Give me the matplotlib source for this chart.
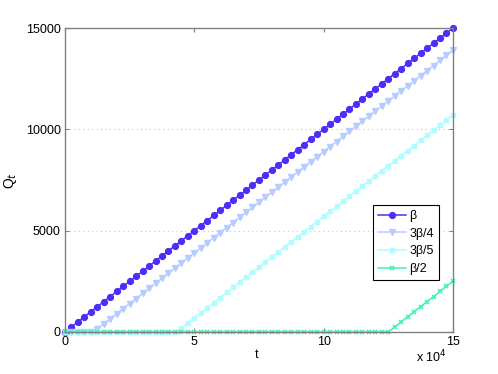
import numpy as np
import matplotlib
matplotlib.use("Agg")
import matplotlib.pyplot as plt
from matplotlib.ticker import FixedLocator, FuncFormatter

t = [i * 2500 for i in range(61)]

beta = [0,250,500,750,1000,1250,1500,1750,2000,2250,2500,2750,3000,3250,3500,3750,4000,
        4250,4500,4750,5000,5250,5500,5750,6000,6250,6500,6750,7000,7250,7500,7750,8000,
        8250,8500,8750,9000,9250,9500,9750,10000,10250,10500,10750,11000,11250,11500,11750,
        12000,12250,12500,12750,13000,13250,13500,13750,14000,14250,14500,14750,15000]
beta34 = [0]*5 + [150,400,650,900,1150,1400,1650,1900,2150,2400,2650,2900,3150,3400,3650,
        3900,4150,4400,4650,4900,5150,5400,5650,5900,6150,6400,6650,6900,7150,7400,7650,7900,
        8150,8400,8650,8900,9150,9400,9650,9900,10150,10400,10650,10900,11150,11400,11650,
        11900,12150,12400,12650,12900,13150,13400,13650,13900]
beta35 = [0]*18 + [200,450,700,950,1200,1450,1700,1950,2200,2450,2700,2950,3200,3450,3700,
        3950,4200,4450,4700,4950,5200,5450,5700,5950,6200,6450,6700,6950,7200,7450,7700,7950,
        8200,8450,8700,8950,9200,9450,9700,9950,10200,10450,10700]
beta2 = [0]*51 + [250,500,750,1000,1250,1500,1750,2000,2250,2500]

labels = ["β", "3β/4", "3β/5", "β/2"]
xticks = [0, 50000, 100000, 150000]
yticks = [0, 5000, 10000, 15000]

plt.rcParams['font.family'] = ['Liberation Sans', 'DejaVu Sans']
FS = 9

fig = plt.figure(figsize=(4.98, 3.74), dpi=100)
ax = fig.add_axes([0.1305, 0.1123, 0.779, 0.8128])

ax.plot(t, beta, color='#4B2EF8', marker='o', markersize=4.2, lw=1.1, label=labels[0], clip_on=False)
ax.plot(t, beta34, color='#B6CCFF', marker='v', markersize=4.5, lw=1.1, label=labels[1], clip_on=False)
ax.plot(t, beta35, color='#B0FCFF', marker='s', markersize=3.5, lw=1.1, label=labels[2], clip_on=False)
ax.plot(t, beta2, color='#3FF3B0', marker='x', markersize=3.5, mew=1.2, lw=1.1, label=labels[3], clip_on=False)

ax.set_xlim(0, 150000)
ax.set_ylim(0, 15000)
ax.xaxis.set_major_locator(FixedLocator(xticks))
ax.yaxis.set_major_locator(FixedLocator(yticks))
ax.xaxis.set_major_formatter(FuncFormatter(lambda v, p: f"{v/1e4:g}"))
ax.yaxis.set_major_formatter(FuncFormatter(lambda v, p: f"{v:g}"))
ax.tick_params(direction='in', length=3, labelsize=FS, labelcolor='#000000',
               top=True, right=True, pad=3, color='#808080')
for s in ax.spines.values():
    s.set_color('#808080')
    s.set_linewidth(1)
ax.grid(axis='y', linestyle=(0, (1, 3)), color='#c8c8c8', lw=0.8)
ax.text(0.985, -0.055, r"x 10$^4$", transform=ax.transAxes, fontsize=FS,
        ha='right', va='top')
ax.set_xlabel("t", fontsize=FS)
ax.xaxis.set_label_coords(0.494, -0.055)
ax.xaxis.label.set_va('top')
ax.set_ylabel(r"Q$_t$", fontsize=10, ha='center', va='center', rotation=90)
ax.yaxis.set_label_coords(-0.14, 0.5)

leg = ax.legend(loc='center right', bbox_to_anchor=(0.964, 0.294), fontsize=FS,
                fancybox=False, framealpha=1, edgecolor='#000000',
                handlelength=2.2, borderpad=0.4, labelspacing=0.45,
                handletextpad=0.3, borderaxespad=0)
leg.get_frame().set_linewidth(0.8)

fig.savefig("out.png", dpi=100)
